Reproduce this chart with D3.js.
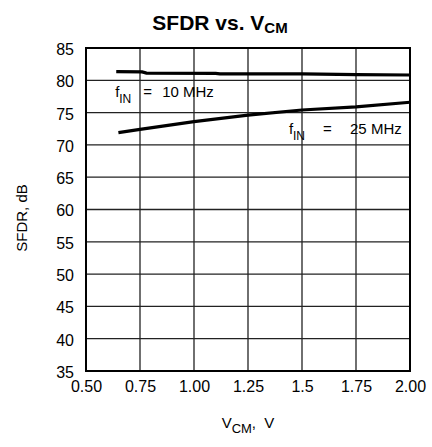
<!DOCTYPE html>
<html>
<head>
<meta charset="utf-8">
<script src="https://cdn.jsdelivr.net/npm/d3@7"></script>
<style>
  html, body { margin: 0; padding: 0; background: #fff; }
  svg { display: block; }
  text { font-family: "Liberation Sans", Arial, Helvetica, sans-serif; fill: #000; }
</style>
</head>
<body>
<svg id="chart" width="432" height="447"></svg>
<script>
// ---- data ----
const xTicks = [0.50, 0.75, 1.00, 1.25, 1.5, 1.75, 2.00];
const xTickLabels = ["0.50", "0.75", "1.00", "1.25", "1.5", "1.75", "2.00"];
const yTicks = [35, 40, 45, 50, 55, 60, 65, 70, 75, 80, 85];

const vcm10 = [0.64, 0.76, 0.78, 1.10, 1.12, 1.50, 1.75, 2.00];
const sfdr10 = [81.35, 81.3, 81.12, 81.08, 81.0, 80.98, 80.88, 80.82];

const vcm25 = [0.65, 0.75, 1.00, 1.25, 1.50, 1.75, 2.00];
const sfdr25 = [71.9, 72.4, 73.6, 74.6, 75.4, 75.9, 76.6];

const labels = ["10 MHz", "25 MHz"];

// ---- layout ----
const svg = d3.select("#chart");
const pL = 86, pR = 410, pT = 48, pB = 371;
const x = d3.scaleLinear().domain([0.5, 2.0]).range([pL, pR]);
const y = d3.scaleLinear().domain([35, 85]).range([pB, pT]);

// grid
const g = svg.append("g");
g.selectAll("line.vg").data(xTicks.slice(1, -1)).enter().append("line")
  .attr("x1", d => x(d)).attr("x2", d => x(d))
  .attr("y1", pT).attr("y2", pB)
  .attr("stroke", "#222").attr("stroke-width", 1.3);
g.selectAll("line.hg").data(yTicks.slice(1, -1)).enter().append("line")
  .attr("x1", pL).attr("x2", pR)
  .attr("y1", d => y(d)).attr("y2", d => y(d))
  .attr("stroke", "#222").attr("stroke-width", 1.3);

// frame
g.append("rect").attr("x", pL).attr("y", pT)
  .attr("width", pR - pL).attr("height", pB - pT)
  .attr("fill", "none").attr("stroke", "#000").attr("stroke-width", 2);

// axes labels via d3 axes (no domain/ticks drawn)
const xAxis = d3.axisBottom(x).tickValues(xTicks).tickFormat((d, i) => xTickLabels[i]).tickSize(0).tickPadding(0);
const xa = svg.append("g").attr("transform", `translate(0,${pB})`).call(xAxis);
xa.select(".domain").remove();
xa.selectAll("text").attr("y", 21).attr("dy", 0)
  .style("font-size", "16px").style("font-family", "'Liberation Sans', Arial, sans-serif").attr("fill", "#000");

const yAxis = d3.axisLeft(y).tickValues(yTicks).tickSize(0).tickPadding(0);
const ya = svg.append("g").attr("transform", `translate(${pL},0)`).call(yAxis);
ya.select(".domain").remove();
ya.selectAll("text").attr("x", -12).attr("dy", "0.4em")
  .style("font-size", "16px").style("font-family", "'Liberation Sans', Arial, sans-serif").attr("fill", "#000");

// lines
const line = d3.line().x(d => x(d[0])).y(d => y(d[1]));
svg.append("path").datum(vcm10.map((v, i) => [v, sfdr10[i]]))
  .attr("d", line).attr("fill", "none").attr("stroke", "#000").attr("stroke-width", 3.2);
svg.append("path").datum(vcm25.map((v, i) => [v, sfdr25[i]]))
  .attr("d", line).attr("fill", "none").attr("stroke", "#000").attr("stroke-width", 3.2);

// title
const title = svg.append("text").attr("x", 220).attr("y", 30)
  .attr("text-anchor", "middle").style("font-weight", "bold").style("font-size", "21px");
title.append("tspan").text("SFDR vs. V");
title.append("tspan").attr("dy", 3).style("font-size", "15px").text("CM");

// y axis title
svg.append("text").attr("transform", "translate(27,218) rotate(-90)")
  .attr("text-anchor", "middle").style("font-size", "15px").text("SFDR, dB");

// x axis title
const xt = svg.append("text").attr("x", 248).attr("y", 428)
  .attr("text-anchor", "middle").style("font-size", "15px").style("white-space", "pre");
xt.append("tspan").text("V");
xt.append("tspan").attr("dy", 5).style("font-size", "13px").text("CM");
xt.append("tspan").attr("dy", -5).text(",  V");

// annotations
function label(xp, yp, val, eqOff, valOff) {
  const t = svg.append("g");
  t.append("text").attr("x", xp).attr("y", yp).style("font-size", "15px").text("f");
  t.append("text").attr("x", xp + 4).attr("y", yp + 6).style("font-size", "12px").text("IN");
  t.append("text").attr("x", xp + eqOff).attr("y", yp).style("font-size", "15px").text("=");
  t.append("text").attr("x", xp + valOff).attr("y", yp).style("font-size", "15px").text(val);
}
label(x(0.635), y(80) + 17, labels[0], 28, 47);
label(x(1.44), y(75) + 21, labels[1], 34, 61);
</script>
</body>
</html>
